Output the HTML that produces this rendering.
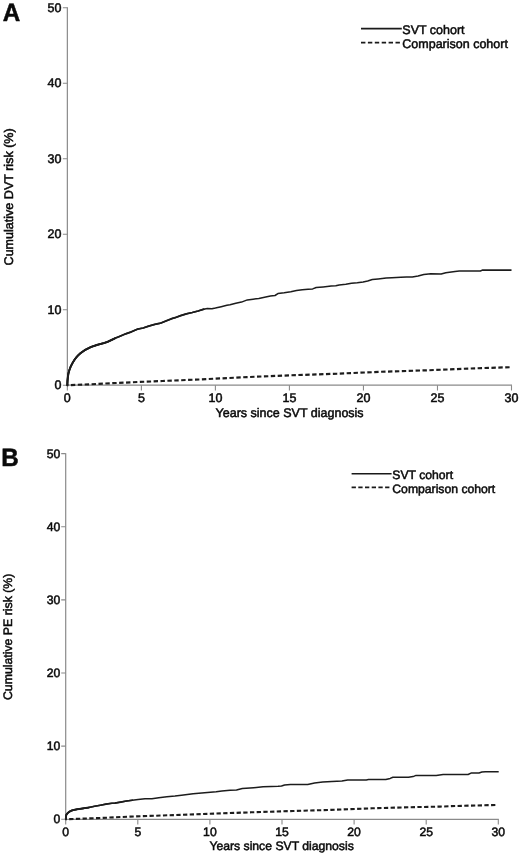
<!DOCTYPE html>
<html lang="en">
<head>
<meta charset="utf-8">
<title>Cumulative DVT and PE risk</title>
<style>
html,body{margin:0;padding:0;background:#fff;}
svg{display:block;font-family:"Liberation Sans",sans-serif;will-change:transform;-webkit-font-smoothing:antialiased;}
text{stroke:#0a0a0a;stroke-width:0.5px;text-rendering:geometricPrecision;}
</style>
</head>
<body>
<svg width="520" height="855" viewBox="0 0 520 855">
<rect width="520" height="855" fill="#ffffff"/>
<path d="M67.35,7.25 V385.70 M66.85,385.20 H512.00" stroke="#8a8a8a" stroke-width="1.2" fill="none"/>
<path d="M62.85,385.20 H67.35 M62.85,309.71 H67.35 M62.85,234.22 H67.35 M62.85,158.73 H67.35 M62.85,83.24 H67.35 M62.85,7.75 H67.35 M67.35,385.20 V390.40 M141.38,385.20 V390.40 M215.40,385.20 V390.40 M289.42,385.20 V390.40 M363.45,385.20 V390.40 M437.48,385.20 V390.40 M511.50,385.20 V390.40" stroke="#8a8a8a" stroke-width="1.1" fill="none"/>
<g font-size="12.5" fill="#0a0a0a">
<text x="61.35" y="389.45" text-anchor="end">0</text>
<text x="61.35" y="313.96" text-anchor="end">10</text>
<text x="61.35" y="238.47" text-anchor="end">20</text>
<text x="61.35" y="162.98" text-anchor="end">30</text>
<text x="61.35" y="87.49" text-anchor="end">40</text>
<text x="61.35" y="12.00" text-anchor="end">50</text>
<text x="67.35" y="402.10" text-anchor="middle">0</text>
<text x="141.38" y="402.10" text-anchor="middle">5</text>
<text x="215.40" y="402.10" text-anchor="middle">10</text>
<text x="289.42" y="402.10" text-anchor="middle">15</text>
<text x="363.45" y="402.10" text-anchor="middle">20</text>
<text x="437.48" y="402.10" text-anchor="middle">25</text>
<text x="511.50" y="402.10" text-anchor="middle">30</text>
<text x="289.62" y="416.70" text-anchor="middle">Years since SVT diagnosis</text>
<text transform="translate(12.9,196.88) rotate(-90)" text-anchor="middle" font-size="12.55">Cumulative DVT risk (%)</text>
<text x="402.3" y="34.2">SVT cohort</text>
<text x="402.3" y="48.1">Comparison cohort</text>
</g>
<path d="M361.0,28.7 H401.8" stroke="#1a1a1a" stroke-width="1.7" fill="none"/>
<path d="M361.0,42.6 H401.8" stroke="#1a1a1a" stroke-width="1.95" stroke-dasharray="4.4 2.5" fill="none"/>
<path d="M67.3,385.2 L67.5,381.0 L67.8,377.5 L68.4,373.5 L69.4,370.0 L70.8,366.3 L72.5,363.1 L74.3,360.1 L76.2,357.5 L78.3,355.2 L80.6,353.1 L85.0,350.0 L91.2,346.9 L97.5,344.8 L103.8,343.1 L107.5,341.9 L112.5,339.5 L115.0,338.3 L120.0,336.2 L125.8,333.8 L131.5,331.8 L137.3,329.2 L143.1,328.0 L148.8,326.1 L154.6,324.4 L160.4,323.2 L166.2,320.9 L171.9,318.6 L175.0,317.7 L180.8,315.6 L186.5,313.8 L192.3,312.5 L198.1,311.0 L203.8,309.2 L207.3,308.5 L211.9,308.8 L215.4,308.1 L221.2,306.7 L226.9,305.2 L230.0,304.7 L235.8,303.3 L241.5,302.1 L247.3,299.9 L253.1,299.2 L258.8,298.4 L264.6,297.2 L270.4,296.1 L275.0,295.5 L277.9,293.6 L284.2,292.8 L290.8,291.8 L296.5,290.6 L302.3,289.8 L308.1,289.2 L312.7,288.9 L316.2,287.5 L323.1,286.9 L331.2,286.1 L335.8,285.8 L339.2,284.9 L345.8,284.3 L351.5,283.3 L357.3,282.7 L363.1,281.9 L367.7,281.0 L372.3,279.5 L378.1,278.9 L386.2,278.1 L391.9,277.7 L400.8,277.2 L406.5,276.9 L412.3,276.9 L418.1,276.0 L423.8,274.6 L430.8,273.7 L441.2,273.9 L445.8,272.7 L455.0,271.4 L459.2,271.0 L480.4,271.0 L482.3,270.1 L511.5,270.1" stroke="#1c1c1c" stroke-width="1.55" fill="none" stroke-linejoin="round"/>
<path d="M67.3,385.2 L67.5,381.0 L67.8,377.5 L68.4,373.5 L69.4,370.0 L70.8,366.3 L72.5,363.1 L74.3,360.1 L76.2,357.5 L78.3,355.2 L80.6,353.1 L85.0,350.0 L91.2,346.9 L97.5,344.8 L103.8,343.1 L107.5,341.9 L112.5,339.5 L115.0,338.3 L120.0,336.2 L125.8,333.8 L131.5,331.8 L137.3,329.2 L143.1,328.0 L148.8,326.1 L154.6,324.4 L160.4,323.2 L166.2,320.9 L171.9,318.6 L175.0,317.7 L180.8,315.6 L186.5,313.8 L192.3,312.5 L198.1,311.0 L203.8,309.2" stroke="#1c1c1c" stroke-width="1.75" fill="none" stroke-linejoin="round" stroke-linecap="round"/>
<path d="M67.3,385.2 L67.5,381.0 L67.8,377.5 L68.4,373.5 L69.4,370.0 L70.8,366.3 L72.5,363.1 L74.3,360.1 L76.2,357.5 L78.3,355.2 L80.6,353.1 L85.0,350.0 L91.2,346.9 L97.5,344.8 L103.8,343.1 L107.5,341.9 L112.5,339.5 L115.0,338.3" stroke="#1c1c1c" stroke-width="2.0" fill="none" stroke-linejoin="round" stroke-linecap="round"/>
<path d="M67.3,385.2 L90.0,384.3 L110.0,383.3 L140.0,381.9 L162.5,381.0 L201.0,379.4 L247.0,377.1 L291.0,375.3 L337.0,373.7 L381.0,371.8 L427.0,370.3 L471.0,368.5 L509.6,367.2" stroke="#1c1c1c" stroke-width="2.15" stroke-dasharray="4.4 2.5" stroke-dashoffset="3.3" fill="none"/>
<text transform="translate(2.8,20.7) scale(0.965,1)" font-size="25.1" font-weight="bold" fill="#0a0a0a">A</text>
<path d="M65.70,453.15 V819.80 M65.20,819.30 H498.80" stroke="#8a8a8a" stroke-width="1.2" fill="none"/>
<path d="M61.20,819.30 H65.70 M61.20,746.17 H65.70 M61.20,673.04 H65.70 M61.20,599.91 H65.70 M61.20,526.78 H65.70 M61.20,453.65 H65.70 M65.70,819.30 V824.50 M137.80,819.30 V824.50 M209.90,819.30 V824.50 M282.00,819.30 V824.50 M354.10,819.30 V824.50 M426.20,819.30 V824.50 M498.30,819.30 V824.50" stroke="#8a8a8a" stroke-width="1.1" fill="none"/>
<g font-size="12.2" fill="#0a0a0a">
<text x="60.20" y="823.30" text-anchor="end">0</text>
<text x="60.20" y="750.17" text-anchor="end">10</text>
<text x="60.20" y="677.04" text-anchor="end">20</text>
<text x="60.20" y="603.91" text-anchor="end">30</text>
<text x="60.20" y="530.78" text-anchor="end">40</text>
<text x="60.20" y="457.65" text-anchor="end">50</text>
<text x="65.70" y="835.60" text-anchor="middle">0</text>
<text x="137.80" y="835.60" text-anchor="middle">5</text>
<text x="209.90" y="835.60" text-anchor="middle">10</text>
<text x="282.00" y="835.60" text-anchor="middle">15</text>
<text x="354.10" y="835.60" text-anchor="middle">20</text>
<text x="426.20" y="835.60" text-anchor="middle">25</text>
<text x="498.30" y="835.60" text-anchor="middle">30</text>
<text x="281.60" y="849.50" text-anchor="middle">Years since SVT diagnosis</text>
<text transform="translate(11.9,636.87) rotate(-90)" text-anchor="middle" font-size="12.3">Cumulative PE risk (%)</text>
<text x="392.3" y="478.8">SVT cohort</text>
<text x="392.3" y="492.6">Comparison cohort</text>
</g>
<path d="M351.6,473.7 H391.6" stroke="#1a1a1a" stroke-width="1.65" fill="none"/>
<path d="M351.6,487.4 H391.6" stroke="#1a1a1a" stroke-width="1.9" stroke-dasharray="4.3 2.4" fill="none"/>
<path d="M65.8,819.2 L66.0,817.0 L66.2,815.2 L67.0,813.8 L68.1,812.7 L69.6,811.6 L71.5,810.6 L74.0,809.9 L77.3,809.2 L83.1,808.4 L88.8,807.5 L94.6,806.3 L100.4,805.2 L106.2,804.1 L111.9,803.3 L115.0,803.1 L120.8,802.1 L126.5,801.0 L132.3,800.2 L138.1,799.5 L145.0,798.7 L151.9,798.8 L158.8,797.7 L166.9,796.7 L175.0,796.0 L181.5,795.2 L193.1,793.8 L204.6,792.7 L216.2,791.8 L221.9,791.1 L230.0,790.3 L236.5,790.0 L242.3,788.6 L253.8,787.7 L263.1,786.8 L271.2,786.5 L278.1,786.3 L281.5,786.0 L284.6,785.0 L290.4,784.4 L307.7,784.6 L314.6,783.0 L322.7,782.1 L331.9,781.4 L341.9,780.9 L347.7,780.0 L366.2,780.0 L368.5,779.5 L385.8,779.5 L390.2,778.4 L392.9,777.3 L408.5,777.2 L413.1,776.6 L416.0,775.4 L436.2,775.4 L443.1,774.6 L468.1,774.5 L471.5,772.9 L479.0,772.9 L481.9,772.0 L485.4,771.7 L498.7,771.7" stroke="#1c1c1c" stroke-width="1.55" fill="none" stroke-linejoin="round"/>
<path d="M65.8,819.2 L66.0,817.0 L66.2,815.2 L67.0,813.8 L68.1,812.7 L69.6,811.6 L71.5,810.6 L74.0,809.9 L77.3,809.2 L83.1,808.4 L88.8,807.5 L94.6,806.3 L100.4,805.2 L106.2,804.1 L111.9,803.3 L115.0,803.1 L120.8,802.1 L126.5,801.0 L132.3,800.2" stroke="#1c1c1c" stroke-width="1.65" fill="none" stroke-linejoin="round" stroke-linecap="round"/>
<path d="M65.8,819.2 L66.0,817.0 L66.2,815.2 L67.0,813.8 L68.1,812.7 L69.6,811.6 L71.5,810.6 L74.0,809.9 L77.3,809.2 L83.1,808.4 L88.8,807.5" stroke="#1c1c1c" stroke-width="1.9" fill="none" stroke-linejoin="round" stroke-linecap="round"/>
<path d="M65.8,819.2 L100.0,818.0 L135.0,816.4 L173.5,815.1 L210.0,813.8 L251.0,812.3 L293.0,811.0 L331.0,809.9 L372.0,808.3 L411.0,807.2 L440.0,806.6 L455.0,806.0 L495.4,805.0" stroke="#1c1c1c" stroke-width="2.1" stroke-dasharray="4.3 2.4" stroke-dashoffset="3.3" fill="none"/>
<text transform="translate(1.2,466.1) scale(0.965,1)" font-size="25.1" font-weight="bold" fill="#0a0a0a">B</text>
</svg>
</body>
</html>
